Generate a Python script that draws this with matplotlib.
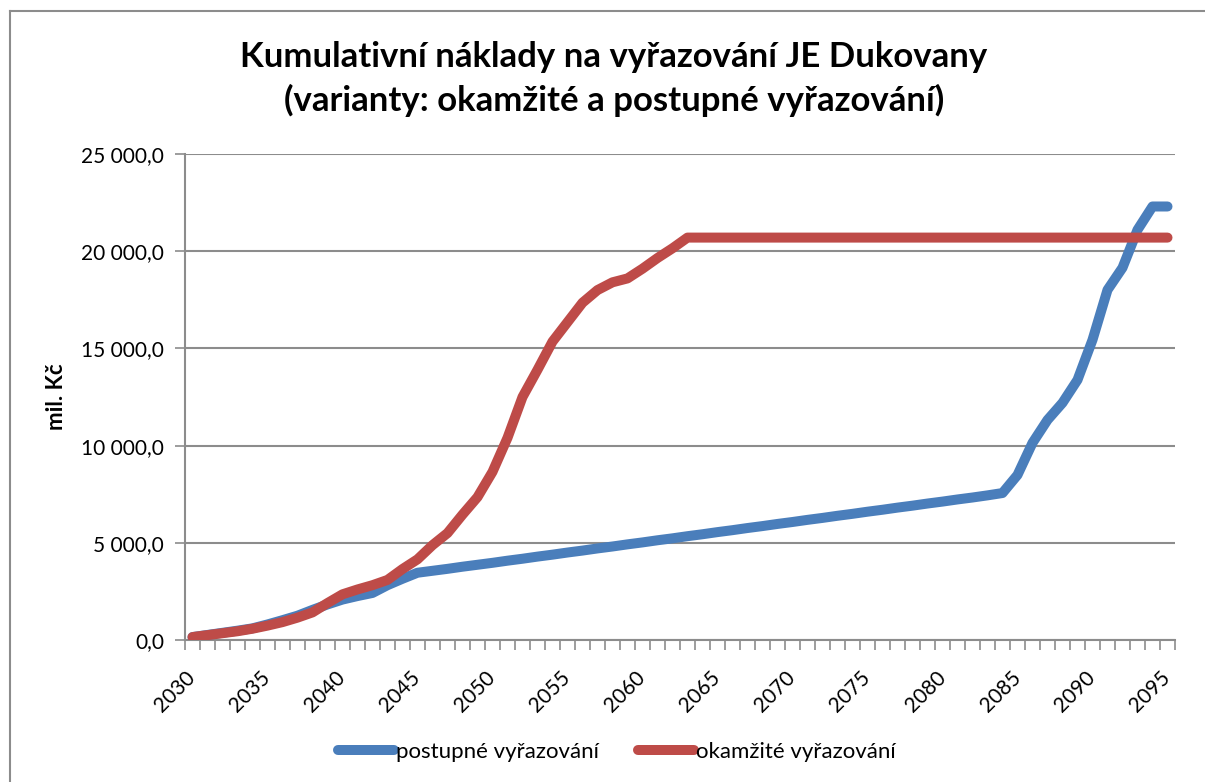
import matplotlib.pyplot as plt
from matplotlib.lines import Line2D

years = list(range(2030, 2096))

# postupné vyřazování (mil. Kč)
postupne = [150, 260, 370, 480, 600, 800, 1020, 1250, 1550, 1830,
            2080, 2260, 2420, 2820, 3150, 3460, 3560, 3660, 3770, 3870,
            3970, 4080, 4180, 4290, 4390, 4500, 4600, 4710, 4810, 4920,
            5020, 5130, 5230, 5340, 5440, 5550, 5650, 5760, 5860, 5970,
            6070, 6180, 6280, 6390, 6490, 6600, 6700, 6810, 6910, 7020,
            7120, 7230, 7330, 7440, 7560, 8490, 10140, 11320, 12200, 13380,
            15440, 18010, 19150, 21100, 22300, 22300]

# okamžité vyřazování (mil. Kč)
okamzite = [150, 250, 350, 450, 580, 740, 920, 1150, 1420, 1900,
            2350, 2600, 2820, 3090, 3650, 4150, 4880, 5500, 6450, 7350,
            8650, 10400, 12500, 13900, 15350, 16350, 17350, 18000, 18400, 18600,
            19100, 19650, 20150, 20700, 20700, 20700, 20700, 20700, 20700, 20700,
            20700, 20700, 20700, 20700, 20700, 20700, 20700, 20700, 20700, 20700,
            20700, 20700, 20700, 20700, 20700, 20700, 20700, 20700, 20700, 20700,
            20700, 20700, 20700, 20700, 20700, 20700]

y_ticks = [0, 5000, 10000, 15000, 20000, 25000]
y_labels = ["0,0", "5 000,0", "10 000,0", "15 000,0", "20 000,0", "25 000,0"]

plt.rcParams['font.family'] = ['Lato', 'DejaVu Sans']

fig = plt.figure(figsize=(12.05, 7.82), dpi=100)
ax = fig.add_axes([185/1205, 1-640/782, 990/1205, 486/782])

ax.plot(years, postupne, color='#4A7EBB', linewidth=7.2, solid_capstyle='round',
        solid_joinstyle='round', label='postupné vyřazování', zorder=3)
ax.plot(years, okamzite, color='#BE4B48', linewidth=7.2, solid_capstyle='round',
        solid_joinstyle='round', label='okamžité vyřazování', zorder=4)

ax.set_xlim(years[0] - 0.5, years[-1] + 0.5)
ax.set_ylim(0, 25000)
ax.set_yticks(y_ticks)
ax.set_yticklabels(y_labels, fontsize=15)
ax.grid(axis='y', color='#8c8c8c', linewidth=1.5)
ax.set_axisbelow(True)

ax.set_xticks(years[::5])
ax.set_xticklabels([str(y) for y in years[::5]], fontsize=15, rotation=45,
                   ha='right', va='center', rotation_mode='anchor')
ax.set_xticks([y - 0.5 for y in years] + [years[-1] + 0.5], minor=True)
ax.tick_params(axis='x', which='major', length=0, pad=25)
ax.tick_params(axis='x', which='minor', length=7, color='#8c8c8c', width=1.2)
ax.tick_params(axis='y', length=7, color='#8c8c8c', width=1.2, pad=8)

for side in ['top', 'right']:
    ax.spines[side].set_visible(False)
for side in ['left', 'bottom']:
    ax.spines[side].set_color('#8c8c8c')
    ax.spines[side].set_linewidth(1.5)

ax.set_ylabel('mil. Kč', fontsize=16, fontweight='bold', labelpad=10)

fig.text(614/1205, 1-57/782, 'Kumulativní náklady na vyřazování JE Dukovany',
         ha='center', va='center', fontsize=25, fontweight='bold')
fig.text(614/1205, 1-100/782, '(varianty: okamžité a postupné vyřazování)',
         ha='center', va='center', fontsize=25, fontweight='bold')

fig.legend(loc='center', bbox_to_anchor=(617/1205, 1-752/782), ncol=2, frameon=False,
           fontsize=16, handlelength=2.5, handletextpad=0.1, columnspacing=1.75)

# chart area border
fig.add_artist(Line2D([10/1205, 10/1205], [0, 1-11/782], transform=fig.transFigure,
                      color='#8c8c8c', linewidth=1.5))
fig.add_artist(Line2D([10/1205, 1], [1-11/782, 1-11/782], transform=fig.transFigure,
                      color='#8c8c8c', linewidth=1.5))

fig.savefig('out.png', dpi=100)
